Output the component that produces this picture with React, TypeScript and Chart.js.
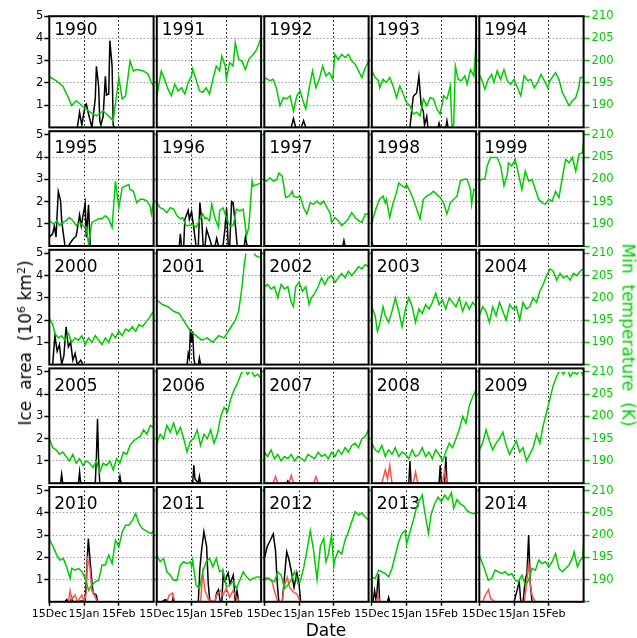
import React, { useEffect, useRef } from "react";
import { Chart, registerables } from "chart.js";

Chart.register(...registerables);

type Pt = [number, number];

// ---- axes ----
const YEARS = [
  1990, 1991, 1992, 1993, 1994,
  1995, 1996, 1997, 1998, 1999,
  2000, 2001, 2002, 2003, 2004,
  2005, 2006, 2007, 2008, 2009,
  2010, 2011, 2012, 2013, 2014,
];
const DAY_MAX = 93; // days after 15 Dec
const DATE_TICKS = [0, 31, 62];
const DATE_LABELS = ["15Dec", "15Jan", "15Feb"];
const AREA_TICKS = [1, 2, 3, 4, 5];
const TEMP_TICKS = [185, 190, 195, 200, 205, 210];
const AREA_MIN = 0;
const AREA_MAX = 5;
const TEMP_MIN = 185;
const TEMP_MAX = 210;

// ---- minimum temperature (K), [day, value] ----
const TEMP_1990: Pt[] = [[0,196.4],[6,195.5],[12,194.3],[17,191.7],[20,189.9],[24,191],[30,189.7],[36,188.5],[42,187.6],[48,188.7],[54,187.3],[57,186.5],[62,196.2],[65,191.4],[68,192.1],[72,199.9],[75,197.7],[78,198],[84,197.7],[88,197],[91,195.1],[93,194.3]];
const TEMP_1991: Pt[] = [[0,192],[4,197.7],[7,195.8],[10,193.6],[13,192.1],[16,194.7],[19,193.2],[22,193.9],[25,192.5],[28,195.1],[31,196.6],[32,198.1],[35,195.8],[38,193.2],[41,192.9],[44,193.9],[47,192.5],[50,195.8],[53,198.8],[56,197.7],[58,201],[61,198.8],[62,195.8],[65,199.6],[68,198.8],[70,204],[73,200.3],[76,199.9],[79,198],[82,200.3],[86,201.4],[89,202.5],[93,205.1]];
const TEMP_1992: Pt[] = [[0,196.2],[5,195.5],[8,195.8],[11,193.6],[14,189.9],[17,191.7],[20,191.4],[23,192.1],[26,188.7],[29,192.1],[32,193.2],[34,191.4],[37,189.1],[40,193.9],[43,197.7],[46,193.9],[49,195.8],[52,198.8],[55,196.6],[58,197.3],[61,195.8],[63,201.4],[66,200.3],[69,201.4],[72,200.7],[75,201.4],[78,199.9],[81,199.2],[84,197.7],[87,196.2],[90,198.4],[93,199.9]];
const TEMP_1993: Pt[] = [[0,197.7],[3,196.2],[6,195.5],[7,193.9],[10,195.8],[13,195.1],[16,196.2],[19,194.3],[22,191.7],[25,194.3],[28,192.5],[31,190.6],[34,189.9],[37,188],[40,188.4],[43,187.6],[46,191.4],[49,189.9],[52,191.7],[55,191.4],[58,189.1],[61,188],[64,192.1],[67,191.4],[70,194.3],[71.5,185.2],[73,185.5],[74.5,198.8],[77,195.8],[80,195.5],[83,196.6],[85,194.7],[88,198],[91,196.6],[93,204]];
const TEMP_1994: Pt[] = [[0,196.9],[2,195.8],[5,193.6],[8,195.8],[11,196.9],[13,195.1],[16,197.7],[19,195.8],[22,198],[25,195.5],[28,194.7],[31,195.8],[34,193.9],[37,192.1],[40,196.6],[43,195.5],[46,195.8],[49,193.9],[52,195.1],[55,196.9],[58,195.5],[61,193.9],[63,195.5],[68,197.3],[71,195.8],[74,192.9],[77,191.4],[80,189.9],[83,191],[86,191.7],[89,194.3],[90,196.2],[93,196.2]];
const TEMP_1995: Pt[] = [[0,190.7],[4,189.9],[7,190.7],[9,189.6],[12,190.3],[15,190.7],[18,191.4],[21,190.7],[24,189.6],[27,190.3],[30,189.6],[33,189.2],[35,185.5],[38,190.3],[41,190.7],[44,191.1],[47,191.1],[50,191.8],[53,191.1],[56,189.2],[59,199.6],[62,193.6],[65,198.1],[68,198.5],[71,198.8],[72,197.7],[75,197.3],[78,194.7],[81,195.5],[84,195.5],[87,195.1],[90,194],[91,192.2],[93,194.7]];
const TEMP_1996: Pt[] = [[0,194.7],[3,193.6],[6,193.3],[9,192.5],[12,193.6],[15,193.3],[18,191.8],[21,191.1],[23,191.4],[26,189.6],[29,189.6],[32,189.9],[35,189.2],[38,190.7],[41,192.2],[43,191.1],[44,191.4],[47,190.7],[49,194.4],[52,191.1],[55,189.2],[56,192.9],[59,193.6],[62,191.4],[65,189.6],[68,189.6],[71,193.3],[74,192.9],[77,193.3],[80,187.3],[82,189.2],[85,199.6],[86,198.5],[89,198.8],[93,199.2]];
const TEMP_1997: Pt[] = [[0,199.9],[2,199.6],[5,200.3],[8,199.6],[11,199.9],[13,201.4],[16,200.7],[19,195.9],[22,196.2],[25,197.3],[26,196.2],[29,195.9],[32,196.2],[35,193.6],[38,192.2],[41,194.7],[44,194.4],[47,195.1],[50,194.4],[53,195.1],[56,193.6],[59,192.2],[60,190.3],[63,191.4],[66,190.7],[69,189.6],[72,190.3],[75,191.1],[78,192.5],[81,191.4],[84,190.7],[87,190.3],[90,192.2],[93,192.2]];
const TEMP_1998: Pt[] = [[0,189.9],[1,191.1],[4,193.6],[7,195.5],[10,196.2],[12,194.7],[13,195.5],[16,191.4],[19,194.7],[22,197],[24,199.2],[27,198.5],[30,198.1],[31,198.8],[34,197.3],[37,195.5],[40,193.3],[43,191.1],[46,195.5],[49,196.2],[52,196.6],[55,197.3],[58,196.6],[61,195.9],[64,194.7],[67,192.2],[70,194.7],[73,195.5],[76,196.2],[79,199.6],[82,200],[85,200],[88,197.7],[89,194.4],[91,197.7],[93,197.3]];
const TEMP_1999: Pt[] = [[0,199.6],[2,200],[5,200],[7,203],[10,204.9],[13,204.9],[16,204.9],[19,203],[22,198.5],[25,201.1],[26,203.7],[29,203],[32,204.5],[35,201.1],[38,197.7],[41,201.8],[44,199.6],[47,200],[50,197.7],[53,195.5],[56,194.7],[59,194.4],[62,195.5],[65,195.1],[68,197.3],[71,195.9],[74,200.3],[77,204.5],[80,203.7],[83,204.9],[86,201.8],[89,205.6],[92,206],[93,208.5]];
const TEMP_2000: Pt[] = [[0,195.5],[3,194],[5,192],[8,191],[11,191.5],[14,190.5],[17,192],[20,190],[23,191],[26,190.5],[29,191.5],[32,189.5],[35,191],[38,190],[41,191.5],[44,190.5],[47,189.5],[50,191],[53,190],[56,192],[59,191],[62,192.5],[65,191.5],[68,193],[71,192.5],[74,193.5],[77,192.5],[80,194],[83,193.5],[86,194.5],[89,195.5],[93,197]];
const TEMP_2001: Pt[] = [[0,199.5],[5,198.5],[10,198],[15,197],[20,196.5],[25,194.5],[30,192.5],[35,191.5],[40,190.5],[45,191],[50,190],[55,191.5],[60,191],[65,193],[70,195],[73,197],[76,202.5],[78,207.5],[80,211],[85,211],[88,209.5],[93,209]];
const TEMP_2002: Pt[] = [[0,202.5],[3,203],[6,202],[9,202.5],[12,200],[15,203],[18,202],[21,202.5],[24,199],[26,198],[28,202.5],[31,203.5],[34,201.5],[37,202.5],[40,198.5],[42,200],[45,201],[48,202.5],[51,204.5],[54,203],[57,204.5],[60,205],[63,203.5],[66,204.5],[69,205.5],[72,204.5],[75,206],[78,205],[81,206],[84,207],[87,206.5],[90,207.5],[93,207]];
const TEMP_2003: Pt[] = [[0,198],[3,196],[5,192.5],[7,194],[10,198],[12,196],[15,194.5],[18,197],[21,200],[24,197],[27,193.5],[30,197.5],[33,200],[36,198],[39,194.5],[42,197.5],[45,196.5],[48,198.5],[51,197.5],[54,199],[57,201],[60,198.5],[63,199.5],[66,197.5],[69,200],[72,199],[75,198],[78,200],[81,197],[84,199],[87,197.5],[90,199],[93,198]];
const TEMP_2004: Pt[] = [[0,196],[3,198],[6,197],[9,194.5],[12,198],[15,196],[18,199],[21,197],[24,195],[27,198.5],[30,197.5],[33,198],[36,195],[39,199],[42,197.5],[45,198],[48,200],[51,199],[54,201.5],[57,203],[60,205],[63,206.5],[66,206],[69,204],[72,205.5],[75,204.5],[78,205],[81,204],[84,205.5],[87,205],[90,206],[93,206.5]];
const TEMP_2005: Pt[] = [[0,195],[3,193],[6,192.5],[9,191.5],[12,192],[15,191],[18,190],[21,191.5],[24,189.5],[27,190.5],[30,189],[33,190],[36,189.5],[39,188.5],[42,190],[45,187.5],[48,189.5],[51,189],[54,190],[57,188],[60,190.5],[63,189.5],[66,192],[69,191.5],[72,193.5],[75,194.5],[78,195],[81,195.5],[84,197],[87,196],[90,198],[93,197.5]];
const TEMP_2006: Pt[] = [[0,194],[3,196],[6,195],[9,198],[12,196.5],[15,198.5],[18,196],[21,197.5],[24,195],[27,192],[30,194.5],[33,195],[36,197],[39,193.5],[42,196],[45,195],[48,197],[51,194],[54,196],[57,200],[60,202],[63,201],[66,204],[69,206],[72,207.5],[75,209.5],[78,211],[81,209.5],[84,210.5],[87,209],[90,209.5],[93,208.5]];
const TEMP_2007: Pt[] = [[0,192],[3,191],[6,192.5],[9,190.5],[12,191.5],[15,190],[18,191],[21,190.5],[24,191.5],[27,190],[30,191],[33,190.5],[36,190],[39,191.5],[42,191],[45,190.5],[48,192],[51,191],[54,191.5],[57,190.5],[60,192],[63,191],[66,192.5],[69,191.5],[72,193],[75,192],[78,193.5],[81,194],[84,193],[87,195],[90,195.5],[93,197]];
const TEMP_2008: Pt[] = [[0,194],[3,192.5],[6,192],[9,193.5],[12,191],[15,192.5],[18,191.5],[21,193],[24,191],[27,192],[30,191.5],[33,190.5],[36,192.5],[39,191],[42,191.5],[45,193],[48,191],[51,192],[54,190.5],[57,192.5],[60,191.5],[63,190],[66,192],[69,194],[72,193],[75,195],[78,197],[81,200],[84,198.5],[87,202.5],[90,204.5],[93,206]];
const TEMP_2009: Pt[] = [[0,192.5],[3,194],[6,197],[9,194.5],[12,192.5],[15,194],[18,195],[21,196.5],[24,193.5],[27,191.5],[30,193],[33,194.5],[36,192],[39,193],[42,190],[45,191.5],[48,193],[51,196],[54,194],[57,198],[60,201],[63,204],[66,207],[69,209],[72,210.5],[75,209.5],[78,211],[81,209],[84,210],[87,209.5],[90,210.5],[93,209]];
const TEMP_2010: Pt[] = [[0,199],[3.6,197.35],[6.6,195.5],[9.6,194.35],[12.5,194.75],[15.5,192.85],[18.5,190.25],[20,192.5],[23,192.1],[26,192.5],[29,191.75],[32,190.25],[35,187.6],[38,188.75],[41,189.5],[44,189.85],[47,193.25],[50,193.25],[53,195.5],[56,193.6],[59,198.85],[62,197.35],[65,200.7],[68,202.2],[71,202.2],[74,203.3],[77,204.8],[80,202.55],[83,201.45],[86,201],[88,200.7],[91,200.35],[93,201]];
const TEMP_2011: Pt[] = [[0,195.5],[3,194],[6,194.75],[9,191.75],[12,191],[15,189.85],[18,189.85],[21,193.25],[24,194],[27,193.6],[30,194],[31,192.85],[32,194.35],[35,188.75],[38,188],[41,191.75],[44,194],[47,194.75],[50,192.85],[53,194.75],[56,191.75],[59,192.1],[62,188.35],[65,188.75],[68,189.5],[71,188],[74,189.85],[77,191.75],[80,190.6],[83,189.85],[86,190.25],[89,190.6],[92,190.6]];
const TEMP_2012: Pt[] = [[0,190.35],[3,190.35],[6,189.85],[9,189.5],[12,191.75],[15,191],[18,188],[21,188.75],[24,189.85],[27,191.75],[30,189.1],[32,189.5],[35,192.5],[38,196.5],[41,201],[44,196.5],[47,190],[50,197.5],[53,199.25],[55,194],[57,195.5],[60,200],[62,193],[63,194.5],[66,196.5],[69,195.75],[72,198.85],[75,200.7],[78,203],[81,205.25],[84,204.5],[87,205],[90,204],[93,203.5]];
const TEMP_2013: Pt[] = [[0,190.6],[3,190.25],[6,192.1],[9,191.75],[12,191.35],[15,190.6],[18,192.5],[21,195.5],[24,198.5],[27,200.35],[30,201],[31,198],[34,200.7],[37,203.3],[40,206.3],[43,208],[45,209],[47,205.5],[49,202.5],[50.5,200.35],[53,204.8],[56,207],[59,208.5],[62,207.5],[65,209],[68,208],[71,209.5],[73,206],[76,208],[79,207],[82,206.5],[85,205.5],[88,205],[91,204.8],[93,205]];
const TEMP_2014: Pt[] = [[0,195.5],[4,192.85],[8,189.85],[11,190.25],[14,192.1],[17,191.75],[20,191.35],[23,191.75],[26,191],[29,191.35],[32,189.85],[35,189.5],[38,191],[41,188.75],[44,189.85],[47,192.5],[50,192.1],[53,194.35],[56,193.6],[59,194],[62,192.85],[65,194],[68,195.85],[71,192.5],[74,191.75],[77,192.5],[80,193.25],[83,194.75],[84.5,196.25],[87.5,192.85],[90,194.35],[92,194.75],[93.5,199.25]];

// ---- ice area (10^6 km^2), [day, value] ----
const ICE_1990: Pt[] = [[25,0],[27,0.68],[29,0.1],[32,1.0],[33,1.05],[35,0.6],[38,0],[41,1.3],[42,2.75],[44,1.85],[45,0.3],[46,0.1],[48,0.5],[50,2.3],[51,1.45],[53,1.5],[54,3.9],[56,2.75],[57,0.1],[58,0]];
const ICE_1992: Pt[] = [[24,0],[26,0.4],[28,0],[33,0],[35,0.3],[37,0]];
const ICE_1993: Pt[] = [[34,0],[37,1.4],[40,1.55],[42,2.3],[44,1.0],[46,0.7],[47,0.1],[49,0.5],[50,0],[59,0],[60,0.2],[61,0],[66,0],[67,0.3],[68,0]];
const ICE_1995: Pt[] = [[0,0.4],[3,0.55],[4.5,0.9],[6,0.4],[8,2.45],[10,2.05],[11,1.2],[12,0.75],[14,0],[17,0],[21,0.3],[24,0.45],[27,1.4],[28.5,0.9],[30,1.35],[32,1.9],[33,0.4],[35,1.85],[36.5,0]];
const ICE_1996: Pt[] = [[20,0],[21,0.55],[22,0],[24,0],[25,1.2],[28,1.6],[29,1.2],[31,1.55],[33,0.8],[35,0],[37,0],[38.4,1.95],[40,1.2],[41.4,0],[43,0],[44.4,0.75],[47,0.35],[49,0],[52,0],[53.4,0.35],[55,0],[59,0],[60.7,0.75],[62.2,1.7],[63.7,0],[65,0],[66.7,2.0],[68,1.95],[69.6,1.2],[71.7,0],[78,0],[79,0.4],[80.6,0]];
const ICE_1997: Pt[] = [[70,0],[71,0.25],[72,0]];
const ICE_1998: Pt[] = [[0,0.2],[1,0]];
const ICE_2000: Pt[] = [[3,0],[5,1.3],[7,0.6],[9,0.9],[11,0],[13,0.4],[15,1.7],[17,0.8],[19,1.0],[21,0.2],[23,0.5],[25,0],[28,0.2],[30,0]];
const ICE_2001: Pt[] = [[27,0],[28,0.5],[29,0.3],[30,1.6],[31,1.0],[32,1.5],[33,0.3],[34,0],[37,0],[38,0.3],[39,0]];
const ICE_2005: Pt[] = [[10,0],[11,0.4],[12,0],[26,0],[27,0.5],[28,0],[41,0],[42,1.2],[43,2.9],[44,1.0],[45,0],[62,0],[63,0.3],[64,0]];
const ICE_2006: Pt[] = [[32,0],[33,0.8],[34,0.2],[37,0],[38,0.3],[39,0]];
const ICE_2007: Pt[] = [[20,0],[21,0.1],[22,0]];
const ICE_2008: Pt[] = [[33,0],[34,1.0],[35,0],[60,0],[61,0.8],[62,0],[65,0],[66,1.2],[67,0]];
const ICE_2010: Pt[] = [[14,0],[15.5,0.1],[17,0],[19,0],[20,0.2],[21,0],[32,0.05],[34.8,2.84],[36.3,1.9],[37.8,1.0],[39,0.4],[42,0.3],[43,0]];
const ICE_2011: Pt[] = [[5,0],[6,0.05],[8,0.1],[9,0],[14,0],[14.6,0.2],[15.5,0],[37,0],[38.4,1.5],[39.9,2.3],[42,3.15],[44.4,2.5],[45.9,0.8],[47.3,0],[52,0],[53.3,0.4],[55,0.55],[56.5,0],[58,0],[59.2,1.3],[60.5,0.95],[62,1.1],[63.7,1.3],[65.2,0.8],[68.2,1.2],[70,0],[71.5,0.5],[73,0]];
const ICE_2012: Pt[] = [[0,1.95],[2.7,2.5],[5.7,2.8],[8,3.05],[10,2.3],[11.6,0.8],[13,0],[16,0],[17.6,0.9],[20,2.25],[22,1.9],[24,1.4],[26.5,0.65],[29,1.3],[31,0.8],[32.4,0]];
const ICE_2013: Pt[] = [[1,0],[2.5,0.5],[4,0],[5,0.7],[6,1.25],[7,0],[14,0],[15,0.2],[16,0]];
const ICE_2014: Pt[] = [[31,0],[33.6,0.5],[35.6,0.9],[37,0],[39,0],[41,0.97],[42.5,1.3],[44,3.0],[45.5,0.8],[47,0]];

// ---- second ice area estimate (red), [day, value] ----
const ICE2_2007: Pt[] = [[8,0],[10,0.3],[12,0],[22,0],[24,0.35],[26,0],[44,0],[46,0.3],[48,0]];
const ICE2_2008: Pt[] = [[9,0],[12,0.6],[14,0.2],[16,0.8],[18,0],[37,0],[39,0.5],[41,0],[63,0],[65,0.6],[67,0]];
const ICE2_2010: Pt[] = [[17,0],[18.5,0.5],[20,0.1],[23,0.3],[25,0],[29,0.3],[31,0],[33,0.4],[34,1.95],[36.3,1.5],[38,0.5],[41,0.2],[43,0]];
const ICE2_2011: Pt[] = [[9,0],[11,0.3],[14,0.4],[16,0],[39,0],[41,1.3],[43,0.5],[46,0.1],[52,0],[53.3,0.3],[57,0.5],[59,0.3],[62,0.6],[65,0.2],[68,0.5],[71,0.2],[74,0]];
const ICE2_2012: Pt[] = [[0,0.97],[4,1.05],[7,0.9],[9,0.5],[12,0],[16,0],[17.6,0.65],[20.5,1.1],[22.5,0.65],[25.5,0.45],[29,0.35],[32,0]];
const ICE2_2013: Pt[] = [[4,0],[5.5,0.3],[7,0]];
const ICE2_2014: Pt[] = [[3,0],[5.4,0.3],[8.3,0.55],[10,0.15],[14,0],[40,0],[42,0.7],[44,1.8],[45.5,0.8],[47,0.3],[50,0]];

const TEMP_BY_YEAR: Record<number, Pt[]> = {
  1990: TEMP_1990, 1991: TEMP_1991, 1992: TEMP_1992, 1993: TEMP_1993, 1994: TEMP_1994,
  1995: TEMP_1995, 1996: TEMP_1996, 1997: TEMP_1997, 1998: TEMP_1998, 1999: TEMP_1999,
  2000: TEMP_2000, 2001: TEMP_2001, 2002: TEMP_2002, 2003: TEMP_2003, 2004: TEMP_2004,
  2005: TEMP_2005, 2006: TEMP_2006, 2007: TEMP_2007, 2008: TEMP_2008, 2009: TEMP_2009,
  2010: TEMP_2010, 2011: TEMP_2011, 2012: TEMP_2012, 2013: TEMP_2013, 2014: TEMP_2014,
};
const ICE_BY_YEAR: Record<number, Pt[]> = {
  1990: ICE_1990, 1992: ICE_1992, 1993: ICE_1993, 1995: ICE_1995, 1996: ICE_1996,
  1997: ICE_1997, 1998: ICE_1998, 2000: ICE_2000, 2001: ICE_2001, 2005: ICE_2005,
  2006: ICE_2006, 2007: ICE_2007, 2008: ICE_2008, 2010: ICE_2010, 2011: ICE_2011,
  2012: ICE_2012, 2013: ICE_2013, 2014: ICE_2014,
};
const ICE2_BY_YEAR: Record<number, Pt[]> = {
  2007: ICE2_2007, 2008: ICE2_2008, 2010: ICE2_2010, 2011: ICE2_2011,
  2012: ICE2_2012, 2013: ICE2_2013, 2014: ICE2_2014,
};

// ---- styling / layout ----
const FONT = "'DejaVu Sans', sans-serif";
const GREEN = "#00cc00";
const RED = "#ff5252";
const GRID_GRAY = "#a0a0a0";
const CLEAR = "rgba(0,0,0,0)";
const PAGE_W = 637;
const PAGE_H = 638;
const COL_X0 = 49.3;
const COL_STEP = 107.5;
const PANEL_W = 104.3;
const ROW_Y0 = 16.2;
const ROW_STEP = 118.6;
const PANEL_H = 111.2;
const FRAME_LIFT = 3.6; // lower rows: frame top sits slightly above the 5 / 210 level
const MARGIN = 50;
// fixed axis box sizes so every panel's plot area lands on the same grid
const AX_LEFT = 24;
const AX_RIGHT = 36;
const AX_BOTTOM = 22;

const toXY = (pts: Pt[]) => pts.map(([x, y]) => ({ x, y }));

const panelPlugin = {
  id: "panel",
  beforeDatasetsDraw(chart: any, _args: any, opts: any) {
    const { ctx, chartArea } = chart;
    ctx.save();
    ctx.fillStyle = "#000";
    ctx.font = `17px ${FONT}`;
    ctx.textBaseline = "alphabetic";
    ctx.textAlign = "left";
    ctx.fillText(String(opts.year), chartArea.left + 5, chartArea.top + 18.5);
    ctx.restore();
  },
  afterDatasetsDraw(chart: any, _args: any, opts: any) {
    const { ctx, chartArea } = chart;
    const top = chartArea.top - (opts.row > 0 ? FRAME_LIFT : 0);
    ctx.save();
    ctx.strokeStyle = "#000";
    ctx.lineWidth = 2;
    ctx.strokeRect(chartArea.left, top, chartArea.right - chartArea.left, chartArea.bottom - top);
    ctx.restore();
  },
};

function Panel({ index }: { index: number }) {
  const ref = useRef<HTMLCanvasElement>(null);
  const year = YEARS[index];
  const row = Math.floor(index / 5);
  const col = index % 5;
  const left = COL_X0 + col * COL_STEP;
  const top = ROW_Y0 + row * ROW_STEP;
  const cx = Math.floor(left) - MARGIN;
  const cy = Math.floor(top) - MARGIN;
  const cw = Math.ceil(PANEL_W) + 2 * MARGIN + 2;
  const ch = Math.ceil(PANEL_H) + 2 * MARGIN + 2;
  const padL = left - cx - AX_LEFT;
  const padT = top - cy;
  const padR = cw - (left - cx) - PANEL_W - AX_RIGHT;
  const padB = ch - padT - PANEL_H - AX_BOTTOM;
  const isBottom = row === 4;
  const isLeft = col === 0;
  const isRight = col === 4;

  useEffect(() => {
    const datasets: any[] = [
      {
        label: "Min temperature",
        data: toXY(TEMP_BY_YEAR[year]),
        yAxisID: "yT",
        borderColor: GREEN,
        borderWidth: 1.5,
      },
    ];
    if (ICE2_BY_YEAR[year]) {
      datasets.push({
        label: "Ice area (2)",
        data: toXY(ICE2_BY_YEAR[year]),
        yAxisID: "yA",
        borderColor: RED,
        borderWidth: 1.5,
      });
    }
    if (ICE_BY_YEAR[year]) {
      datasets.push({
        label: "Ice area",
        data: toXY(ICE_BY_YEAR[year]),
        yAxisID: "yA",
        borderColor: "#000",
        borderWidth: 1.5,
      });
    }
    const tickFont = { family: FONT, size: 11.5 };
    const chart = new Chart(ref.current as HTMLCanvasElement, {
      type: "line",
      data: { datasets },
      plugins: [panelPlugin],
      options: {
        responsive: false,
        animation: false,
        events: [],
        layout: { padding: { left: padL, top: padT, right: padR, bottom: padB } },
        elements: { point: { radius: 0 }, line: { tension: 0 } },
        plugins: {
          legend: { display: false },
          tooltip: { enabled: false },
          panel: { year, row },
        } as any,
        scales: {
          x: {
            type: "linear",
            position: "bottom",
            min: 0,
            max: DAY_MAX,
            afterBuildTicks: (s: any) => {
              s.ticks = DATE_TICKS.map((v) => ({ value: v }));
            },
            afterFit: (s: any) => {
              s.height = AX_BOTTOM;
            },
            grid: {
              color: (c: any) => (c.tick && c.tick.value === 0 ? CLEAR : "#000"),
              lineWidth: 1,
              drawTicks: isBottom,
              tickLength: 4,
              tickColor: "#000",
              tickWidth: 1.5,
            },
            border: { display: false, dash: [1.5, 2.5] },
            ticks: {
              display: isBottom,
              autoSkip: false,
              maxRotation: 0,
              minRotation: 0,
              padding: 2,
              color: "#000",
              font: { family: FONT, size: 11 },
              callback: (v: any) => {
                const i = DATE_TICKS.indexOf(Number(v));
                return i >= 0 ? DATE_LABELS[i] : "";
              },
            },
          },
          yA: {
            type: "linear",
            position: "left",
            min: AREA_MIN,
            max: AREA_MAX,
            afterBuildTicks: (s: any) => {
              s.ticks = AREA_TICKS.map((v) => ({ value: v }));
            },
            afterFit: (s: any) => {
              s.width = AX_LEFT;
            },
            grid: {
              color: (c: any) => (c.tick && c.tick.value >= AREA_MAX ? CLEAR : GRID_GRAY),
              lineWidth: 1,
              drawTicks: isLeft,
              tickLength: 5,
              tickColor: "#000",
              tickWidth: 1.5,
            },
            border: { display: false, dash: [1.5, 2] },
            ticks: {
              display: isLeft,
              padding: 1,
              color: "#000",
              font: tickFont,
            },
          },
          yT: {
            type: "linear",
            position: "right",
            min: TEMP_MIN,
            max: TEMP_MAX,
            afterBuildTicks: (s: any) => {
              s.ticks = TEMP_TICKS.map((v) => ({ value: v }));
            },
            afterFit: (s: any) => {
              s.width = AX_RIGHT;
            },
            grid: {
              drawOnChartArea: false,
              drawTicks: true,
              tickLength: isRight ? 6 : 3,
              tickColor: GREEN,
              tickWidth: 1.5,
            },
            border: { display: false },
            ticks: {
              display: isRight,
              padding: 2,
              color: GREEN,
              font: tickFont,
              callback: (v: any) => (Number(v) === TEMP_MIN ? "" : String(v)),
            },
          },
        },
      } as any,
    });
    return () => chart.destroy();
  }, []);

  return (
    <canvas
      ref={ref}
      width={cw}
      height={ch}
      style={{ position: "absolute", left: cx, top: cy, width: cw, height: ch, display: "block" }}
    />
  );
}

export default function App() {
  const gridBottom = ROW_Y0 + 4 * ROW_STEP + PANEL_H;
  return (
    <div
      style={{
        position: "absolute",
        left: 0,
        top: 0,
        width: PAGE_W,
        height: PAGE_H,
        background: "#fff",
        overflow: "hidden",
        fontFamily: FONT,
      }}
    >
      {YEARS.map((y, i) => (
        <Panel key={y} index={i} />
      ))}
      <div
        style={{
          position: "absolute",
          left: 25,
          top: 343,
          transform: "translate(-50%, -50%) rotate(-90deg)",
          whiteSpace: "pre",
          fontSize: 17,
          lineHeight: 1,
          color: "#000",
        }}
      >
        Ice  area  (10<sup style={{ fontSize: 11, verticalAlign: "6px" }}>6</sup> km
        <sup style={{ fontSize: 11, verticalAlign: "6px" }}>2</sup>)
      </div>
      <div
        style={{
          position: "absolute",
          left: 628,
          top: 335,
          transform: "translate(-50%, -50%) rotate(90deg)",
          whiteSpace: "pre",
          fontSize: 17,
          lineHeight: 1,
          color: GREEN,
        }}
      >
        Min  temperature  (K)
      </div>
      <div
        style={{
          position: "absolute",
          left: 326,
          top: gridBottom + 28,
          transform: "translate(-50%, -50%)",
          fontSize: 17,
          lineHeight: 1,
          color: "#000",
        }}
      >
        Date
      </div>
    </div>
  );
}
